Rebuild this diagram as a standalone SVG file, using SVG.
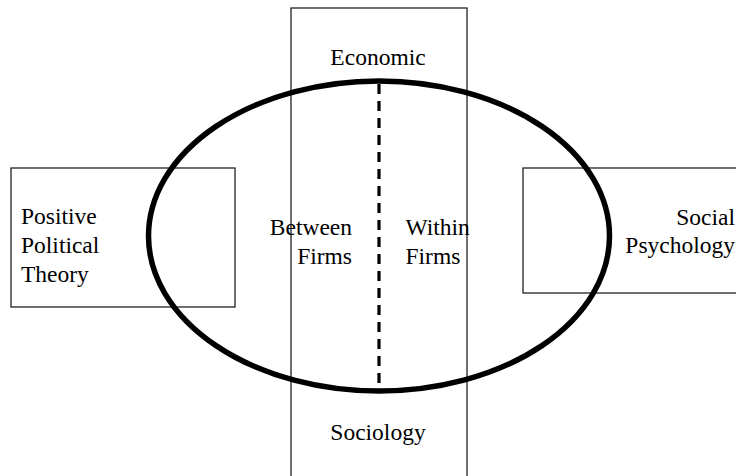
<svg xmlns="http://www.w3.org/2000/svg" width="736" height="476" viewBox="0 0 736 476">
<style>
.box{fill:none;stroke:#222;stroke-width:1.3}
.t{font-family:"Liberation Serif","Times New Roman",serif;font-size:23.5px;fill:#000}
.ell{fill:none;stroke:#000;stroke-width:5.5}
.dash{stroke:#000;stroke-width:3.2;stroke-dasharray:10 7;fill:none}
</style>
<rect width="736" height="476" fill="#fff"/>
<g id="economic-sociology">
<rect class="box" x="291" y="8" width="176" height="480"/>
<text class="t" x="378" y="65" text-anchor="middle">Economic</text>
<text class="t" x="378" y="440" text-anchor="middle">Sociology</text>
</g>
<g id="positive-political-theory">
<rect class="box" x="11" y="168" width="224" height="139"/>
<text class="t" x="21" y="224">Positive</text>
<text class="t" x="21" y="253">Political</text>
<text class="t" x="21" y="282">Theory</text>
</g>
<g id="social-psychology">
<rect class="box" x="523" y="168" width="230" height="125"/>
<text class="t" x="735" y="225" text-anchor="end">Social</text>
<text class="t" x="735" y="253" text-anchor="end">Psychology</text>
</g>
<g id="organization">
<ellipse class="ell" cx="379" cy="236" rx="230.5" ry="155"/>
</g>
<g id="between-firms">
<text class="t" x="352" y="235" text-anchor="end">Between</text>
<text class="t" x="352" y="264" text-anchor="end">Firms</text>
</g>
<g id="within-firms">
<text class="t" x="405.5" y="235">Within</text>
<text class="t" x="405.5" y="264">Firms</text>
</g>
<g id="connectors">
<line class="dash" x1="379" y1="84" x2="379" y2="388"/>
</g>
</svg>
